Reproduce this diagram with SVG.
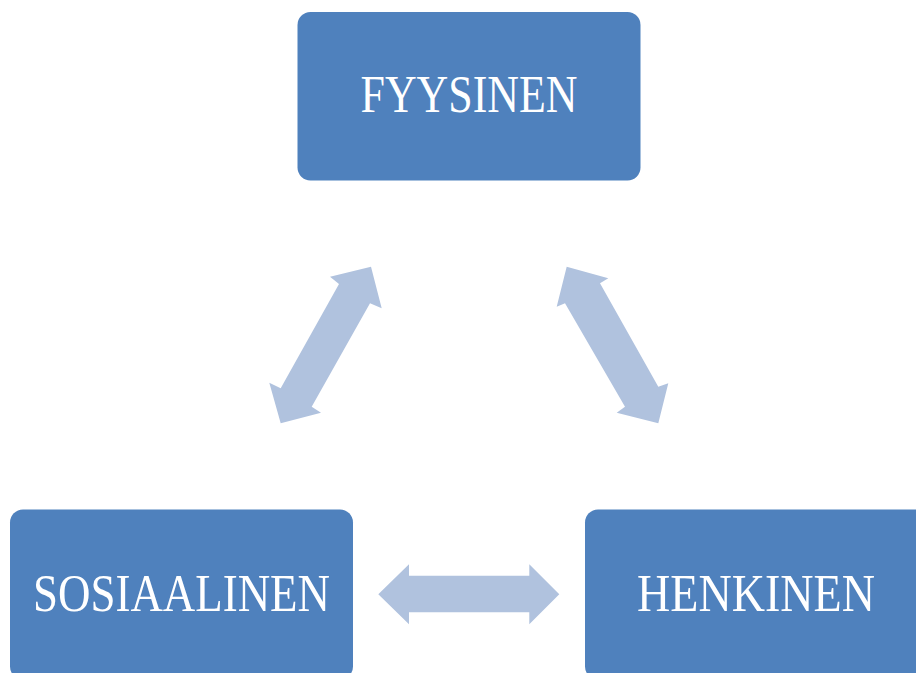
<svg xmlns="http://www.w3.org/2000/svg" width="916" height="673" viewBox="0 0 916 673">
  <style>
    .box { fill: #4F81BD; }
    .label { fill: #FFFFFF; font-family: "Liberation Serif", "DejaVu Serif", serif; font-size: 52px; text-anchor: middle; }
    .arrow { fill: #B0C2DE; }
  </style>
  <rect width="916" height="673" fill="#FFFFFF"/>

  <g id="node-fyysinen">
    <rect class="box" x="297.5" y="12" width="343" height="168.5" rx="13" ry="13"/>
    <text class="label" x="469" y="112" textLength="217" lengthAdjust="spacingAndGlyphs">FYYSINEN</text>
  </g>

  <g id="node-sosiaalinen">
    <rect class="box" x="10" y="509.5" width="343" height="170" rx="13" ry="13"/>
    <text class="label" x="181.5" y="611" textLength="297" lengthAdjust="spacingAndGlyphs">SOSIAALINEN</text>
  </g>

  <g id="node-henkinen">
    <rect class="box" x="585" y="509.5" width="343" height="170" rx="13" ry="13"/>
    <text class="label" x="756" y="610.5" textLength="238" lengthAdjust="spacingAndGlyphs">HENKINEN</text>
  </g>

  <g id="connectors">
    <!-- FYYSINEN <-> SOSIAALINEN -->
    <polygon class="arrow" points="371,266.7 381.7,308.3 370,303.3 311.7,406.7 321,412.7 280.7,423.3 269.3,382.7 280.7,388.3 339,284 330,276.7"/>
    <!-- FYYSINEN <-> HENKINEN -->
    <polygon class="arrow" points="566.7,266.7 608.3,278.3 600,283.3 658.3,386.7 668.3,383.3 658.3,423.3 616.7,412.7 625,406.7 565,303.3 556.7,306.7"/>
    <!-- SOSIAALINEN <-> HENKINEN -->
    <polygon class="arrow" points="378.3,594.3 409,564.3 409,575.7 529.3,575.7 529.3,564.3 559.3,594.3 529.3,624.3 529.3,612.3 409,612.3 409,624.3"/>
  </g>
</svg>
